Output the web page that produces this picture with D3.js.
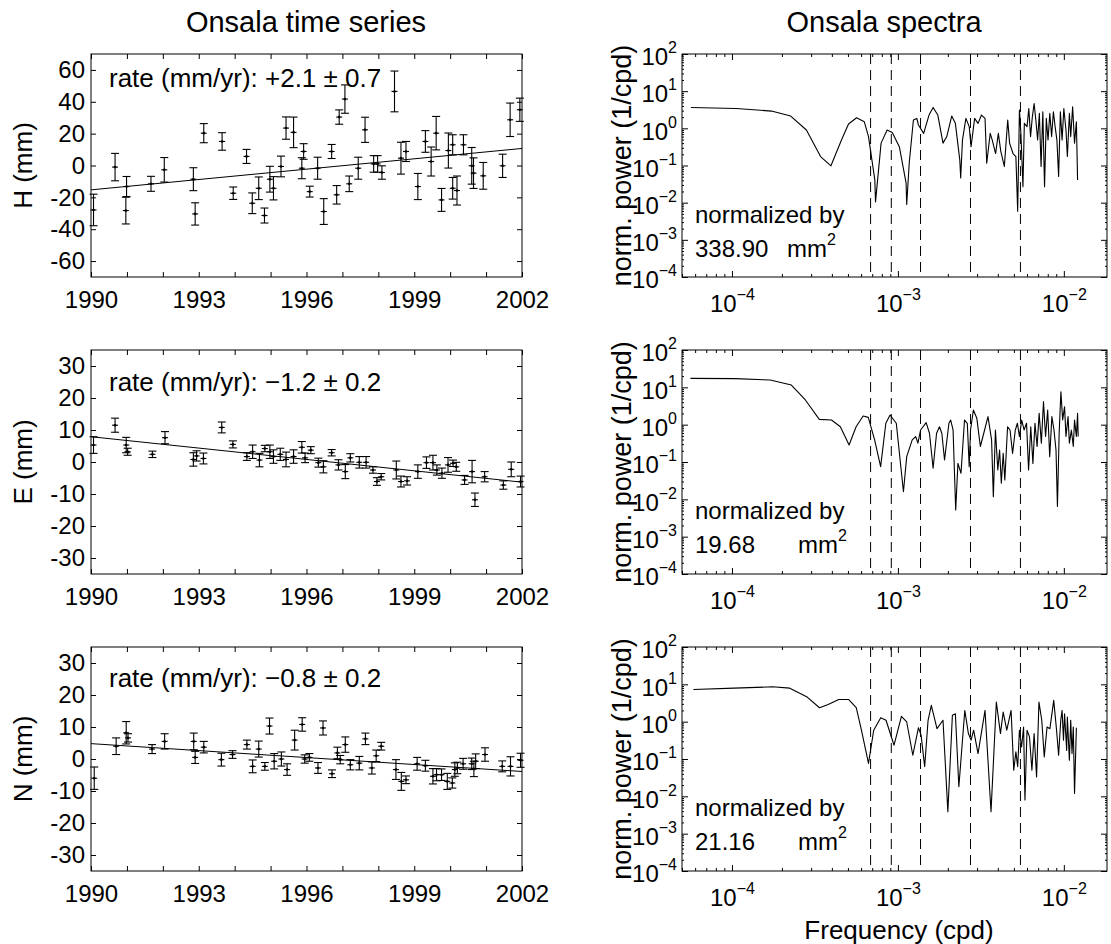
<!DOCTYPE html>
<html><head><meta charset="utf-8">
<script src="https://cdn.jsdelivr.net/npm/d3@7"></script>
<style>
body{margin:0;background:#fff}
svg{display:block}
text{font-family:"Liberation Sans",Arial,Helvetica,sans-serif;fill:#000}
</style>
</head><body>
<svg id="c" width="1111" height="944"></svg>
<script>
// ---------- DATA ----------
const yearTicks = [1990, 1993, 1996, 1999, 2002];
const yearMinor = [1990,1991,1992,1993,1994,1995,1996,1997,1998,1999,2000,2001,2002];
const hTicks = [-60,-40,-20,0,20,40,60];
const enTicks = [-30,-20,-10,0,10,20,30];
const trendYears = [1990, 2002];

const hYear = [1990.07,1990.67,1990.99,1990.97,1991.67,1992.04,1992.85,1992.90,1993.14,1993.65,1993.96,1994.33,1994.49,1994.67,1994.83,1994.98,1995.08,1995.29,1995.43,1995.64,1995.92,1995.87,1996.09,1996.31,1996.48,1996.70,1996.84,1996.91,1997.07,1997.19,1997.44,1997.63,1997.87,1997.98,1998.10,1998.45,1998.63,1998.77,1999.10,1999.31,1999.47,1999.61,1999.76,1999.95,2000.07,2000.07,2000.19,2000.37,2000.60,2000.65,2000.92,2001.46,2001.67,2001.94];
const hVal = [-27.9,-1.0,-13.2,-28.3,-11.5,-2.7,-8.6,-30.4,20.3,15.1,-17.4,5.7,-23.7,-14.3,-31.4,-8.6,-14.3,-0.6,23.5,20.8,8.8,-1.7,-16.4,-1.7,-28.9,8.8,-18.4,30.4,41.7,-11.5,-1.7,22.4,1.0,1.0,-4.4,46.5,4.6,8.8,-13.2,15.1,2.5,20.3,-21.6,9.4,13.0,-14.3,-15.7,13.0,-0.2,-4.8,-6.5,-0.2,28.7,35.0];
const hErr = [9.9,8.6,6.3,8.4,4.7,7.7,7.2,7.0,6.0,5.5,3.9,4.4,6.5,7.1,4.7,8.1,7.3,6.5,7.0,9.6,4.9,6.6,3.4,6.9,8.1,4.4,5.8,4.5,8.9,4.9,6.9,7.9,5.2,5.2,4.2,12.8,10.0,6.3,8.2,6.8,9.1,10.5,7.2,11.0,6.3,6.8,9.1,6.3,11.5,9.6,8.4,7.3,10.5,7.3];
const hTrend = [-15.3, 10.7];

const eYear = [1990.07,1990.67,1990.98,1991.02,1991.71,1992.06,1992.85,1992.94,1993.13,1993.64,1993.95,1994.34,1994.50,1994.69,1994.84,1994.98,1995.08,1995.27,1995.43,1995.64,1995.87,1995.96,1996.12,1996.33,1996.47,1996.70,1996.89,1997.08,1997.22,1997.47,1997.66,1997.85,1997.96,1998.08,1998.50,1998.63,1998.80,1999.10,1999.34,1999.52,1999.63,1999.77,1999.94,2000.08,2000.17,2000.40,2000.61,2000.69,2000.96,2001.48,2001.70,2001.96];
const eVal = [5.3,11.5,5.3,3.2,2.4,7.6,0.8,1.9,1.1,10.8,5.5,1.7,3.2,0.6,4.2,3.2,1.7,2.4,0.8,1.7,4.6,1.3,3.7,-0.2,-1.5,2.9,-0.9,-3.0,1.3,-0.1,-0.1,-2.5,-6.1,-4.6,-2.5,-6.1,-5.9,-3.0,-0.2,-0.2,-2.5,-3.5,-0.9,-0.4,-1.5,-5.6,-3.0,-11.8,-4.6,-7.2,-2.3,-6.1];
const eErr = [2.6,2.2,2.4,1.1,1.0,1.9,2.1,1.6,1.7,1.7,1.1,1.2,2.1,2.1,1.0,2.1,2.1,1.9,2.3,2.1,1.8,1.5,1.1,1.4,1.9,1.0,1.6,2.2,1.3,1.8,1.8,1.0,1.2,1.0,2.8,1.7,1.3,2.1,1.8,2.3,1.6,1.6,2.3,1.0,1.4,1.4,3.5,2.1,1.6,1.3,2.3,1.7];
const eTrend = [7.9, -6.3];

const nYear = [1990.09,1990.70,1990.98,1991.03,1991.70,1992.05,1992.86,1992.90,1993.14,1993.63,1993.94,1994.34,1994.50,1994.67,1994.84,1994.97,1995.10,1995.30,1995.46,1995.67,1995.88,1995.95,1996.08,1996.32,1996.46,1996.71,1996.86,1996.94,1997.08,1997.22,1997.47,1997.64,1997.82,1997.94,1998.08,1998.49,1998.64,1998.77,1999.08,1999.31,1999.52,1999.62,1999.76,1999.92,2000.06,2000.13,2000.20,2000.36,2000.60,2000.66,2000.71,2000.97,2001.45,2001.68,2001.96];
const nVal = [-6.0,4.0,8.2,6.6,3.1,5.5,5.5,0.5,3.7,-0.2,1.4,4.5,-2.3,3.1,-2.3,10.3,-0.7,0.0,-3.3,5.9,10.8,0.0,0.5,-2.8,9.7,-4.6,1.9,-0.2,4.5,-1.8,-1.3,6.3,-2.8,1.0,4.0,-3.3,-7.0,-6.5,-1.5,-2.1,-5.4,-4.9,-4.9,-7.0,-7.5,-3.3,-2.8,-1.5,-1.5,-3.1,-0.7,1.4,-2.3,-2.3,-0.4];
const nErr = [3.5,2.6,3.5,1.3,1.4,2.4,2.6,1.9,1.8,2.0,1.2,1.4,2.0,2.5,1.2,2.5,2.4,2.2,1.8,3.1,2.1,1.3,1.2,1.7,2.2,1.2,1.8,1.3,2.4,1.6,2.1,1.8,1.9,1.8,1.2,3.1,2.8,1.2,2.0,1.7,2.4,1.9,1.8,2.5,1.6,2.1,1.8,1.7,1.8,2.4,2.3,2.1,1.7,3.0,2.2];
const nTrend = [4.8, -3.9];

const rateTexts = ["rate (mm/yr):  +2.1 \u00B1 0.7", "rate (mm/yr):  \u22121.2 \u00B1 0.2", "rate (mm/yr):  \u22120.8 \u00B1 0.2"];
const compLabels = ["H (mm)", "E (mm)", "N (mm)"];

// spectra
const freqH = [5.66e-5,1.06e-4,1.73e-4,2.26e-4,2.81e-4,3.42e-4,3.95e-4,4.57e-4,5.04e-4,5.64e-4,6.27e-4,6.65e-4,7.26e-4,7.33e-4,7.92e-4,8.61e-4,9.25e-4,1.02e-3,1.12e-3,1.13e-3,1.17e-3,1.24e-3,1.30e-3,1.33e-3,1.43e-3,1.54e-3,1.63e-3,1.74e-3,1.87e-3,1.97e-3,2.11e-3,2.22e-3,2.36e-3,2.39e-3,2.45e-3,2.57e-3,2.69e-3,2.76e-3,2.90e-3,3.04e-3,3.19e-3,3.35e-3,3.43e-3,3.60e-3,3.70e-3,3.88e-3,4.03e-3,4.17e-3,4.38e-3,4.59e-3,4.71e-3,4.94e-3,5.14e-3,5.27e-3,5.40e-3,5.51e-3,5.67e-3,5.78e-3,6.00e-3,6.15e-3,6.30e-3,6.46e-3,6.62e-3,6.78e-3,6.95e-3,7.12e-3,7.29e-3,7.47e-3,7.65e-3,7.84e-3,8.03e-3,8.23e-3,8.44e-3,8.65e-3,8.86e-3,9.08e-3,9.30e-3,9.53e-3,9.76e-3,1.00e-2,1.03e-2,1.05e-2,1.08e-2,1.10e-2,1.13e-2,1.16e-2,1.19e-2,1.21e-2];
const powH = [3.65,3.43,2.91,2.14,0.90,0.174,0.098,0.487,1.31,1.93,1.51,0.60,0.041,0.0105,0.40,0.90,0.77,0.32,0.034,0.0089,0.115,1.67,1.85,1.23,0.73,2.28,3.65,2.28,0.40,0.60,2.14,1.36,0.142,0.046,0.49,1.85,1.11,0.32,1.85,1.36,2.28,1.85,0.115,0.73,0.49,0.21,0.73,0.24,0.094,1.67,0.40,0.21,0.174,0.0059,3.10,0.73,0.027,1.36,1.11,3.43,0.60,2.05,4.67,1.67,0.49,2.52,0.094,2.79,0.027,1.85,0.49,2.52,0.60,2.79,1.11,0.49,0.051,2.79,0.49,3.43,0.90,0.174,2.52,0.60,3.80,0.40,1.51,0.041];
const freqE = [5.62e-5,1.05e-4,1.70e-4,2.28e-4,2.77e-4,3.36e-4,3.98e-4,4.50e-4,5.08e-4,5.60e-4,6.17e-4,6.63e-4,7.24e-4,7.87e-4,8.46e-4,8.97e-4,9.78e-4,1.08e-3,1.13e-3,1.22e-3,1.28e-3,1.32e-3,1.37e-3,1.48e-3,1.55e-3,1.63e-3,1.71e-3,1.78e-3,1.84e-3,1.91e-3,2.03e-3,2.08e-3,2.15e-3,2.23e-3,2.30e-3,2.40e-3,2.52e-3,2.62e-3,2.69e-3,2.74e-3,2.85e-3,2.99e-3,3.14e-3,3.33e-3,3.49e-3,3.67e-3,3.76e-3,3.87e-3,4.00e-3,4.10e-3,4.20e-3,4.31e-3,4.41e-3,4.58e-3,4.74e-3,4.91e-3,5.10e-3,5.25e-3,5.40e-3,5.57e-3,5.76e-3,5.96e-3,6.13e-3,6.32e-3,6.51e-3,6.70e-3,6.90e-3,7.10e-3,7.32e-3,7.54e-3,7.76e-3,7.99e-3,8.22e-3,8.47e-3,8.72e-3,8.97e-3,9.15e-3,9.37e-3,9.60e-3,9.84e-3,1.01e-2,1.03e-2,1.06e-2,1.08e-2,1.11e-2,1.14e-2,1.16e-2,1.19e-2,1.21e-2,1.22e-2];
const powE = [17.4,17.1,15.7,11.5,4.58,1.39,1.33,0.88,0.285,0.88,1.71,1.57,0.39,0.075,1.09,1.82,1.09,0.016,0.139,0.39,0.48,0.32,0.72,1.13,0.59,0.068,0.59,0.88,0.59,0.113,1.09,1.33,0.72,0.0052,0.092,0.050,1.33,1.09,0.075,0.72,2.47,1.48,0.26,0.72,1.64,0.39,0.0118,0.72,0.061,0.21,0.027,0.171,0.033,0.88,0.72,0.17,0.72,1.09,0.48,1.33,0.72,1.09,0.061,0.88,0.092,1.09,0.26,2.01,0.32,4.13,0.48,2.47,0.139,1.64,0.72,0.21,0.0064,0.59,7.65,1.33,3.03,0.48,1.64,0.32,0.72,0.26,1.33,0.48,2.01,0.48];
const freqN = [5.86e-5,1.03e-4,1.75e-4,2.23e-4,2.84e-4,3.37e-4,3.80e-4,4.40e-4,5.04e-4,5.61e-4,6.03e-4,6.65e-4,7.15e-4,7.88e-4,8.48e-4,9.48e-4,1.05e-3,1.13e-3,1.23e-3,1.33e-3,1.38e-3,1.45e-3,1.52e-3,1.59e-3,1.72e-3,1.87e-3,2.00e-3,2.13e-3,2.22e-3,2.33e-3,2.53e-3,2.66e-3,2.76e-3,2.86e-3,3.04e-3,3.35e-3,3.64e-3,3.92e-3,4.15e-3,4.31e-3,4.53e-3,4.81e-3,4.99e-3,5.14e-3,5.27e-3,5.40e-3,5.56e-3,5.72e-3,5.83e-3,6.00e-3,6.21e-3,6.42e-3,6.62e-3,6.85e-3,7.08e-3,7.36e-3,7.62e-3,7.92e-3,8.24e-3,8.69e-3,9.04e-3,9.30e-3,9.58e-3,9.76e-3,9.95e-3,1.01e-2,1.04e-2,1.05e-2,1.08e-2,1.10e-2,1.12e-2,1.14e-2,1.16e-2,1.19e-2];
const powN = [7.28,7.9,8.58,7.9,4.55,2.36,2.90,3.94,3.94,2.36,0.59,0.076,0.59,1.28,1.09,0.234,1.39,0.98,0.126,0.69,0.43,0.062,1.09,2.73,0.65,1.09,0.0039,1.48,1.63,0.018,2.0,0.48,0.32,0.59,0.14,2.0,0.0039,3.35,0.48,1.81,0.59,2.0,0.050,0.155,0.062,0.59,0.21,0.72,0.008,0.59,0.39,0.050,0.48,0.033,3.35,1.09,0.114,0.72,0.65,3.71,0.59,0.126,1.09,2.0,0.32,1.63,0.17,1.33,0.093,1.09,0.14,0.72,0.012,0.69];
const normValues = ["338.90", "19.68", "21.16"];
// reference frequencies (4-yr, 3-yr, 2-yr, annual, semi-annual), cpd
const refFreqs = [6.845e-4, 9.126e-4, 1.369e-3, 2.738e-3, 5.476e-3];
const xDecades = [1e-4, 1e-3, 1e-2];
const yDecades = [1e-4, 1e-3, 1e-2, 1e-1, 1, 10, 100];

// ---------- LAYOUT ----------
const svg = d3.select("#c");
const rowTop = [54, 350, 647], rowBot = [277, 574, 871];
const LX = [91, 522], RX = [682, 1107];
const TICK = 24, SUP = 16;

svg.append("text").attr("x", 306).attr("y", 32).attr("text-anchor","middle").attr("font-size",29).text("Onsala time series");
svg.append("text").attr("x", 884).attr("y", 32).attr("text-anchor","middle").attr("font-size",29).text("Onsala spectra");

const tsData = [
  {year:hYear, val:hVal, err:hErr, trend:hTrend, dom:[-70,70], ticks:hTicks, textDy:33},
  {year:eYear, val:eVal, err:eErr, trend:eTrend, dom:[-35,35], ticks:enTicks, textDy:41},
  {year:nYear, val:nVal, err:nErr, trend:nTrend, dom:[-35,35], ticks:enTicks, textDy:40}
];
const specData = [
  {f:freqH, p:powH, mmX:787},
  {f:freqE, p:powE, mmX:798},
  {f:freqN, p:powN, mmX:798}
];

function cleanAxis(g){ g.select(".domain").remove(); g.selectAll("line").attr("stroke","#000").attr("stroke-width",1); }

tsData.forEach((d, i) => {
  const y0 = rowTop[i], y1 = rowBot[i];
  const x = d3.scaleLinear().domain([1990, 2002]).range(LX);
  const y = d3.scaleLinear().domain(d.dom).range([y1, y0]);
  const g = svg.append("g");

  g.append("g").attr("transform",`translate(0,${y1})`)
    .call(d3.axisBottom(x).tickValues(yearMinor).tickSizeInner(-5).tickSizeOuter(0).tickPadding(14)
      .tickFormat(v => yearTicks.includes(v) ? String(v) : ""))
    .call(cleanAxis).selectAll("text").attr("font-size",TICK).attr("font-family",null);
  g.append("g").attr("transform",`translate(0,${y0})`)
    .call(d3.axisTop(x).tickValues(yearMinor).tickSizeInner(-5).tickSizeOuter(0).tickFormat(""))
    .call(cleanAxis);
  g.append("g").attr("transform",`translate(${LX[0]},0)`)
    .call(d3.axisLeft(y).tickValues(d.ticks).tickSizeInner(-5).tickSizeOuter(0).tickPadding(6).tickFormat(v => String(v)))
    .call(cleanAxis).selectAll("text").attr("font-size",TICK).attr("font-family",null);
  g.append("g").attr("transform",`translate(${LX[1]},0)`)
    .call(d3.axisRight(y).tickValues(d.ticks).tickSizeInner(-5).tickSizeOuter(0).tickFormat(""))
    .call(cleanAxis);
  g.selectAll(".tick text").attr("fill","#000");

  g.append("rect").attr("x",LX[0]).attr("y",y0).attr("width",LX[1]-LX[0]).attr("height",y1-y0)
    .attr("fill","none").attr("stroke","#000").attr("stroke-width",1);

  g.append("text").attr("x",109).attr("y",y0 + d.textDy).attr("font-size",26).text(rateTexts[i]);

  const tl = trendYears.map((yr, k) => [yr, d.trend[k]]);
  g.append("path").attr("d", d3.line().x(p => x(p[0])).y(p => y(p[1]))(tl))
    .attr("fill","none").attr("stroke","#000").attr("stroke-width",1);

  const pts = d.year.map((yr, k) => ({t: yr, v: d.val[k], e: d.err[k]}));
  const eb = g.append("g").attr("stroke","#000").attr("stroke-width",1.1).attr("fill","none");
  pts.forEach(p => {
    const cx = x(p.t), cy = y(p.v), top = y(p.v + p.e), bot = y(p.v - p.e);
    eb.append("line").attr("x1",cx).attr("x2",cx).attr("y1",top).attr("y2",bot);
    eb.append("line").attr("x1",cx-4).attr("x2",cx+4).attr("y1",top).attr("y2",top);
    eb.append("line").attr("x1",cx-4).attr("x2",cx+4).attr("y1",bot).attr("y2",bot);
    eb.append("line").attr("x1",cx-3).attr("x2",cx+3).attr("y1",cy).attr("y2",cy);
    eb.append("circle").attr("cx",cx).attr("cy",cy).attr("r",1.3).attr("fill","#000").attr("stroke","none");
  });

  const cy = (y0 + y1) / 2;
  svg.append("text").attr("transform",`translate(32,${cy}) rotate(-90)`).attr("text-anchor","middle")
    .attr("font-size",26).text(compLabels[i]);
});

function supLabel(textSel, exp){
  textSel.text(null);
  textSel.append("tspan").text("10");
  textSel.append("tspan").attr("font-size",SUP).attr("dy","-0.75em").text(exp);
}
function expOf(v){ const e = Math.round(Math.log10(v)); return e < 0 ? "\u2212" + Math.abs(e) : String(e); }

specData.forEach((d, i) => {
  const y0 = rowTop[i], y1 = rowBot[i];
  const x = d3.scaleLog().domain([5e-5, 0.0182]).range(RX);
  const y = d3.scaleLog().domain([1e-4, 1e2]).range([y1, y0]);
  const g = svg.append("g");

  const xMinor = [];
  [1e-5,1e-4,1e-3,1e-2].forEach(dec => { for (let k = 2; k <= 9; k++){ const v = k*dec; if (v >= 5e-5 && v <= 0.0182) xMinor.push(v);} });
  const yMinor = [];
  [1e-4,1e-3,1e-2,1e-1,1,10].forEach(dec => { for (let k = 2; k <= 9; k++) yMinor.push(k*dec); });

  const bx = g.append("g").attr("transform",`translate(0,${y1})`)
    .call(d3.axisBottom(x).tickValues(xDecades).tickSizeInner(-6).tickSizeOuter(0).tickPadding(12).tickFormat(""))
    .call(cleanAxis);
  bx.selectAll(".tick text").each(function(v){ const t = d3.select(this).attr("font-size",TICK).attr("fill","#000"); supLabel(t, expOf(v)); t.attr("dy","0.97em"); });
  g.append("g").attr("transform",`translate(0,${y1})`)
    .call(d3.axisBottom(x).tickValues(xMinor).tickSizeInner(-3).tickSizeOuter(0).tickFormat("")).call(cleanAxis);
  g.append("g").attr("transform",`translate(0,${y0})`)
    .call(d3.axisTop(x).tickValues(xDecades).tickSizeInner(-6).tickSizeOuter(0).tickFormat("")).call(cleanAxis);
  g.append("g").attr("transform",`translate(0,${y0})`)
    .call(d3.axisTop(x).tickValues(xMinor).tickSizeInner(-3).tickSizeOuter(0).tickFormat("")).call(cleanAxis);

  const ly = g.append("g").attr("transform",`translate(${RX[0]},0)`)
    .call(d3.axisLeft(y).tickValues(yDecades).tickSizeInner(-6).tickSizeOuter(0).tickPadding(5).tickFormat(""))
    .call(cleanAxis);
  ly.selectAll(".tick text").each(function(v){ const t = d3.select(this).attr("font-size",TICK).attr("fill","#000"); supLabel(t, expOf(v)); t.attr("dy","0.45em"); });
  g.append("g").attr("transform",`translate(${RX[0]},0)`)
    .call(d3.axisLeft(y).tickValues(yMinor).tickSizeInner(-2).tickSizeOuter(0).tickFormat("")).call(cleanAxis);
  g.append("g").attr("transform",`translate(${RX[1]},0)`)
    .call(d3.axisRight(y).tickValues(yDecades).tickSizeInner(-6).tickSizeOuter(0).tickFormat("")).call(cleanAxis);
  g.append("g").attr("transform",`translate(${RX[1]},0)`)
    .call(d3.axisRight(y).tickValues(yMinor).tickSizeInner(-2).tickSizeOuter(0).tickFormat("")).call(cleanAxis);

  g.append("rect").attr("x",RX[0]).attr("y",y0).attr("width",RX[1]-RX[0]).attr("height",y1-y0)
    .attr("fill","none").attr("stroke","#000").attr("stroke-width",1);

  refFreqs.forEach(f => {
    g.append("line").attr("x1",x(f)).attr("x2",x(f)).attr("y1",y0).attr("y2",y1)
      .attr("stroke","#000").attr("stroke-width",1).attr("stroke-dasharray","10,6");
  });

  const n = Math.min(d.f.length, d.p.length);
  const pts = d3.range(n).map(k => [d.f[k], d.p[k]]);
  g.append("path").attr("d", d3.line().x(p => x(p[0])).y(p => y(p[1]))(pts))
    .attr("fill","none").attr("stroke","#000").attr("stroke-width",1.1).attr("stroke-linejoin","round");

  g.append("text").attr("x",695).attr("y",y0+169).attr("font-size",24).text("normalized by");
  g.append("text").attr("x",695).attr("y",y0+203).attr("font-size",24).text(normValues[i]);
  const mm = g.append("text").attr("x",d.mmX).attr("y",y0+203).attr("font-size",24);
  mm.append("tspan").text("mm");
  mm.append("tspan").attr("font-size",SUP).attr("dy","-0.75em").text("2");

  svg.append("text").attr("transform",`translate(631,${(y0+y1)/2}) rotate(-90)`).attr("text-anchor","middle")
    .attr("font-size",27).text("norm. power (1/cpd)");
});

svg.append("text").attr("x",899).attr("y",939).attr("text-anchor","middle").attr("font-size",26).text("Frequency (cpd)");
</script>
</body></html>
